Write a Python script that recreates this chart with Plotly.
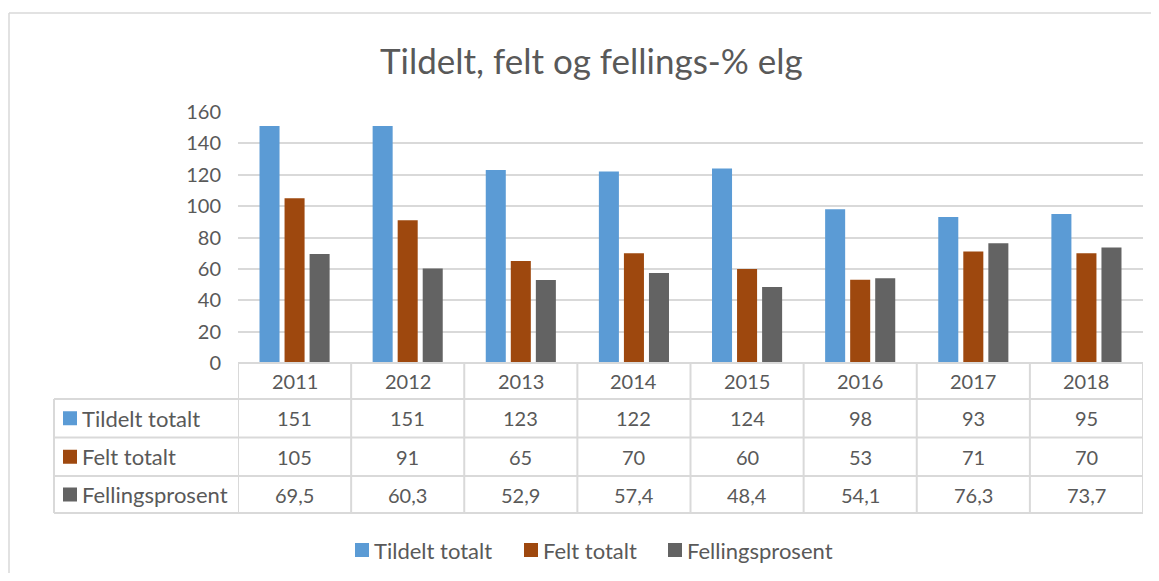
import plotly.graph_objects as go

# page body adds an 8px margin; figure sized to fit inside the window
OFF = 8
W, H = 1159 - 2 * OFF, 581 - 2 * OFF

years = ["2011", "2012", "2013", "2014", "2015", "2016", "2017", "2018"]
tildelt = [151, 151, 123, 122, 124, 98, 93, 95]
felt = [105, 91, 65, 70, 60, 53, 71, 70]
fellingsprosent = [69.5, 60.3, 52.9, 57.4, 48.4, 54.1, 76.3, 73.7]

series_names = ["Tildelt totalt", "Felt totalt", "Fellingsprosent"]
series_vals = [tildelt, felt, fellingsprosent]
colors = ["#5b9bd5", "#9e480e", "#636363"]
legend_x = [355, 524, 668]

TXT = "#595959"
GRID = "#d9d9d9"
FONT = "Lato, Carlito, Calibri, sans-serif"
NUM_SIZE = 20
WORD_SIZE = 22


def px(x):
    return (x - OFF) / W


def py(y):
    return 1 - (y - OFF) / H


def fmt(v):
    s = f"{v:g}" if float(v).is_integer() else f"{v:.1f}"
    return s.replace(".", ",")


PLOT_L, PLOT_R = 238, 1143
PLOT_T, PLOT_B = 112, 363
ROW_Y = [363, 399, 437.5, 476, 513]
TABLE_L = 54

fig = go.Figure()
for name, vals, c in zip(series_names, series_vals, colors):
    fig.add_trace(go.Bar(x=list(range(len(years))), y=vals, name=name, marker_color=c,
                         marker_line_width=0))

fig.update_layout(
    width=W, height=H,
    margin=dict(l=0, r=0, t=0, b=0, autoexpand=False),
    paper_bgcolor="white", plot_bgcolor="white",
    barmode="group", bargap=0.336, bargroupgap=0.2,
    font=dict(family=FONT, color=TXT, size=NUM_SIZE),
    showlegend=False,
    xaxis=dict(domain=[px(PLOT_L), px(PLOT_R)], showticklabels=False, showgrid=False,
               zeroline=False, showline=False, range=[-0.5, len(years) - 0.5],
               fixedrange=True),
    yaxis=dict(domain=[py(PLOT_B), py(PLOT_T)], range=[0, 160], dtick=20,
               showgrid=True, gridcolor=GRID, gridwidth=1.5, zeroline=False,
               showline=False, tickfont=dict(size=NUM_SIZE, color=TXT),
               ticklabelstandoff=16, fixedrange=True),
)

shapes = []
line = dict(color=GRID, width=2)
# outer chart border (left and top)
shapes.append(dict(type="line", xref="paper", yref="paper", x0=px(9), x1=px(9),
                   y0=py(13), y1=-0.1, line=dict(color=GRID, width=1.5)))
shapes.append(dict(type="line", xref="paper", yref="paper", x0=px(9), x1=1.1,
                   y0=py(13), y1=py(13), line=dict(color=GRID, width=1.5)))
# table horizontal lines
for i, yy in enumerate(ROW_Y):
    shapes.append(dict(type="line", xref="x", yref="paper", x0=-0.5, x1=len(years) - 0.5,
                       y0=py(yy), y1=py(yy), line=line))
    if i >= 1:
        shapes.append(dict(type="line", xref="paper", yref="paper", x0=px(TABLE_L),
                           x1=px(PLOT_L), y0=py(yy), y1=py(yy), line=line))
# vertical lines
for k in range(len(years) + 1):
    shapes.append(dict(type="line", xref="x", yref="paper", x0=k - 0.5, x1=k - 0.5,
                       y0=py(ROW_Y[0]), y1=py(ROW_Y[-1]), line=line))
shapes.append(dict(type="line", xref="paper", yref="paper", x0=px(TABLE_L), x1=px(TABLE_L),
                   y0=py(ROW_Y[1]), y1=py(ROW_Y[-1]), line=line))

annotations = []
# title
annotations.append(dict(text="Tildelt, felt og fellings-% elg", xref="paper", yref="paper",
                        x=px(591), y=py(60), xanchor="center", yanchor="middle",
                        showarrow=False, font=dict(size=35, color=TXT)))
# header years
for i, yr in enumerate(years):
    annotations.append(dict(text=yr, xref="x", yref="paper", x=i,
                            y=py((ROW_Y[0] + ROW_Y[1]) / 2), xanchor="center",
                            yanchor="middle", showarrow=False,
                            font=dict(size=NUM_SIZE, color=TXT)))
# rows
for r, (name, vals, c) in enumerate(zip(series_names, series_vals, colors)):
    ymid = (ROW_Y[r + 1] + ROW_Y[r + 2]) / 2
    shapes.append(dict(type="rect", xref="paper", yref="paper", x0=px(63), x1=px(77),
                       y0=py(ymid - 7), y1=py(ymid + 7), fillcolor=c, line=dict(width=0)))
    annotations.append(dict(text=name, xref="paper", yref="paper", x=px(80), y=py(ymid),
                            xanchor="left", yanchor="middle", showarrow=False,
                            font=dict(size=WORD_SIZE, color=TXT)))
    for i, v in enumerate(vals):
        annotations.append(dict(text=fmt(v), xref="x", yref="paper", x=i, y=py(ymid),
                                xanchor="center", yanchor="middle", showarrow=False,
                                font=dict(size=NUM_SIZE, color=TXT)))

# legend
LEG_Y = 550
for name, c, lx in zip(series_names, colors, legend_x):
    shapes.append(dict(type="rect", xref="paper", yref="paper", x0=px(lx), x1=px(lx + 14),
                       y0=py(LEG_Y - 7), y1=py(LEG_Y + 7), fillcolor=c, line=dict(width=0)))
    annotations.append(dict(text=name, xref="paper", yref="paper", x=px(lx + 17), y=py(LEG_Y),
                            xanchor="left", yanchor="middle", showarrow=False,
                            font=dict(size=WORD_SIZE, color=TXT)))

fig.update_layout(shapes=shapes, annotations=annotations)
fig.write_html("out.html")
